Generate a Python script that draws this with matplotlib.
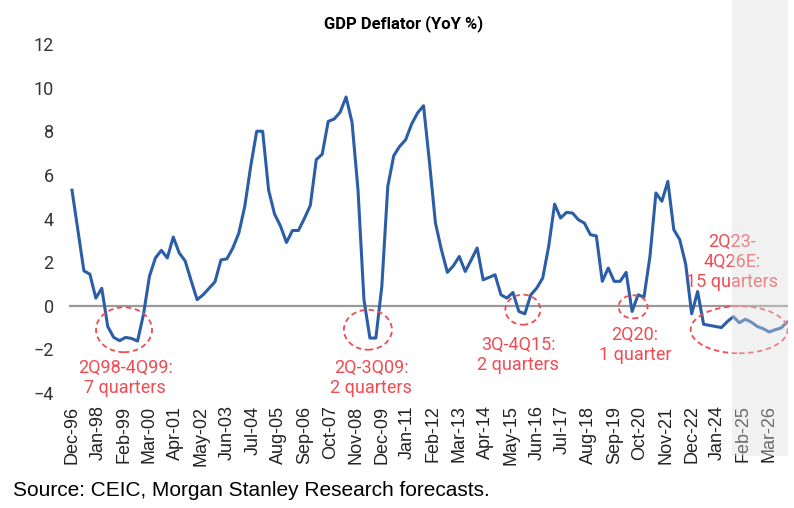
import matplotlib
matplotlib.use("Agg")
import matplotlib.pyplot as plt
from matplotlib.patches import Ellipse

# quarterly GDP deflator YoY %, 4Q96 .. 4Q26E
gdp_deflator = [
    5.3, 3.45, 1.6, 1.45, 0.35, 0.8, -0.95, -1.45, -1.6, -1.45,
    -1.5, -1.62, -0.4, 1.35, 2.19, 2.54, 2.19, 3.15, 2.42, 2.05,
    1.15, 0.28, 0.5, 0.8, 1.1, 2.1, 2.15, 2.65, 3.33, 4.56,
    6.4, 8.0, 8.0, 5.3, 4.2, 3.65, 2.9, 3.45, 3.45, 4.0,
    4.6, 6.7, 6.95, 8.45, 8.56, 8.87, 9.57, 8.41, 5.32, 0.28,
    -1.48, -1.48, 0.89, 5.47, 6.88, 7.31, 7.61, 8.33, 8.84, 9.17,
    6.57, 3.79, 2.57, 1.53, 1.83, 2.26, 1.57, 2.1, 2.65, 1.19,
    1.3, 1.42, 0.5, 0.35, 0.61, -0.26, -0.37, 0.5, 0.81, 1.27,
    2.72, 4.66, 4.02, 4.28, 4.25, 3.94, 3.79, 3.26, 3.2, 1.12,
    1.73, 1.12, 1.12, 1.53, -0.26, 0.5, 0.4, 2.26, 5.17, 4.79,
    5.7, 3.49, 3.03, 1.9, -0.37, 0.65, -0.85, -0.9, -0.95, -1.0,
    -0.72, -0.5, -0.78, -0.62, -0.75, -0.95, -1.05, -1.2, -1.1, -1.02,
    -0.75,
]
# months since Dec-96 for each quarter
months = [3 * i for i in range(len(gdp_deflator))]

tick_labels = ['Dec-96', 'Jan-98', 'Feb-99', 'Mar-00', 'Apr-01', 'May-02', 'Jun-03',
               'Jul-04', 'Aug-05', 'Sep-06', 'Oct-07', 'Nov-08', 'Dec-09', 'Jan-11',
               'Feb-12', 'Mar-13', 'Apr-14', 'May-15', 'Jun-16', 'Jul-17', 'Aug-18',
               'Sep-19', 'Oct-20', 'Nov-21', 'Dec-22', 'Jan-24', 'Feb-25', 'Mar-26']
tick_months = [13 * i for i in range(len(tick_labels))]

forecast_start = 111  # 3Q24, first forecast quarter

# deflation episodes: label, text x/y, ellipse centre x/y, width, height
episodes = [
    ("2Q98-4Q99:\n7 quarters", 26.7, -3.3, 26.2, -1.1, 28.2, 2.06),
    ("2Q-3Q09:\n2 quarters", 150.5, -3.3, 149, -1.1, 24.2, 1.83),
    ("3Q-4Q15:\n2 quarters", 224.6, -2.25, 227, -0.18, 17.6, 1.38),
    ("2Q20:\n1 quarter", 283.5, -1.8, 282.5, -0.05, 14.6, 1.06),
    ("2Q23-\n4Q26E:\n15 quarters", 332.3, 2.0, 335.9, -1.1, 48.8, 2.16),
]

blue = '#2b5ea7'
red = '#ef4c52'

fig = plt.figure(figsize=(7.94, 5.08), dpi=100)
ax = fig.add_axes([69 / 794, 1 - 393 / 508, 719 / 794, 349 / 508])

ax.axhline(0, color='#999999', lw=1.6, zorder=1)
ax.plot(months, gdp_deflator, color=blue, lw=2.2, zorder=3)

for label, tx, ty, ex, ey, w, h in episodes:
    ax.add_patch(Ellipse((ex, ey), w, h, fill=False, ec=red, lw=1.3,
                         ls=(0, (3, 2)), zorder=4))
    ax.text(tx, ty, label, ha='center', va='center', color=red, fontsize=13,
            family='Roboto', linespacing=1.15, zorder=4)

ax.set_xlim(-1.5, 360.5)
ax.set_ylim(-4, 12)
ax.set_yticks(range(-4, 13, 2))
ax.set_xticks(tick_months)
ax.set_xticklabels(tick_labels, rotation=90, family=['Liberation Sans Narrow', 'Liberation Sans'],
                   fontsize=13, color='#222222')
for t in ax.get_yticklabels():
    t.set_family('Roboto')
    t.set_fontsize(13)
    t.set_color('#333333')
ax.tick_params(length=0)
ax.tick_params(axis='y', pad=11)
ax.tick_params(axis='x', pad=9)
for s in ax.spines.values():
    s.set_visible(False)

# forecast shading, drawn over the line so the forecast part looks faded
shade = ax.axvspan(3 * forecast_start - 0.7, 360.5, ymin=-0.18, ymax=1.13,
                   color='#dcdcdc', alpha=0.4, lw=0, zorder=10)
shade.set_clip_on(False)

fig.text(0.508, 0.953, "GDP Deflator (YoY %)", ha='center', va='center',
         fontsize=12, fontweight='bold', family='Roboto')
fig.text(13 / 794, 1 - 491 / 508, "Source: CEIC, Morgan Stanley Research forecasts.",
         ha='left', va='center', fontsize=15, family='Liberation Sans')

fig.savefig('out.png', dpi=100)
